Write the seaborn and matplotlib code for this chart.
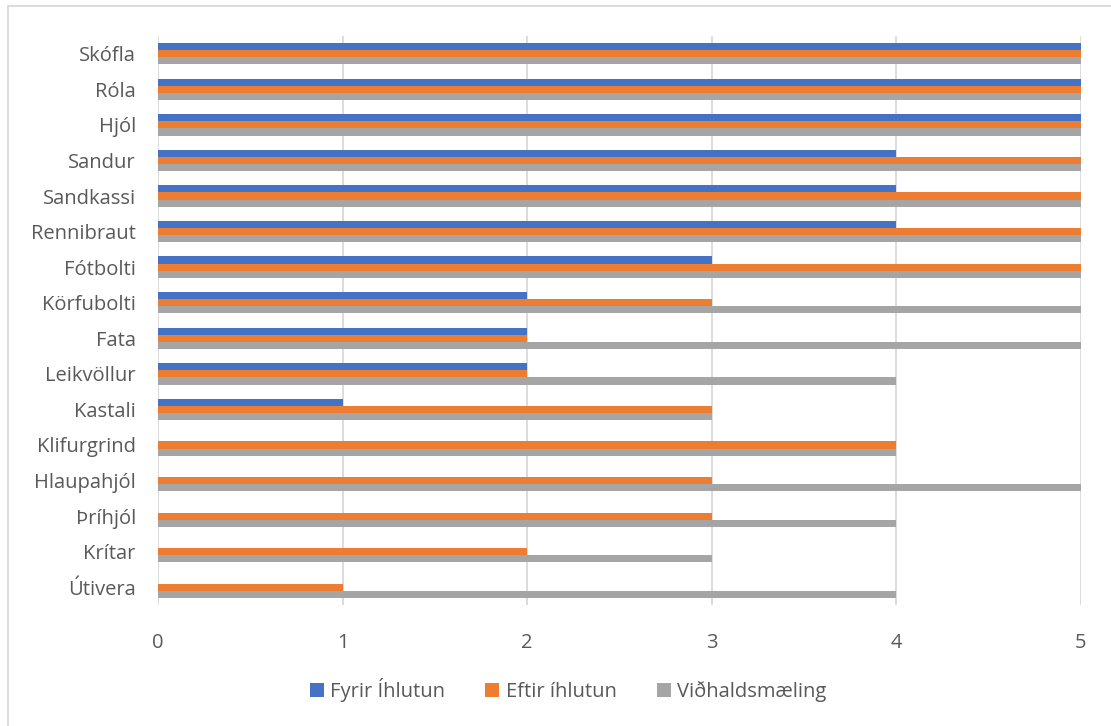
import pandas as pd
import matplotlib
matplotlib.use("Agg")
import matplotlib.pyplot as plt
import seaborn as sns
from matplotlib.patches import Rectangle

# data
categories = ["Skófla", "Róla", "Hjól", "Sandur", "Sandkassi", "Rennibraut",
              "Fótbolti", "Körfubolti", "Fata", "Leikvöllur", "Kastali",
              "Klifurgrind", "Hlaupahjól", "Þríhjól", "Krítar", "Útivera"]
series_names = ["Fyrir Íhlutun", "Eftir íhlutun", "Viðhaldsmæling"]
fyrir = [5, 5, 5, 4, 4, 4, 3, 2, 2, 2, 1, 0, 0, 0, 0, 0]
eftir = [5, 5, 5, 5, 5, 5, 5, 3, 2, 2, 3, 4, 3, 3, 2, 1]
vidhald = [5, 5, 5, 5, 5, 5, 5, 5, 5, 4, 3, 4, 5, 4, 3, 4]
xticks = [0, 1, 2, 3, 4, 5]

colors = ["#4472C4", "#ED7D31", "#A5A5A5"]
text_col = "#595959"

df = pd.DataFrame({"Flokkur": categories * 3,
                   "Röð": sum([[s] * len(categories) for s in series_names], []),
                   "Gildi": fyrir + eftir + vidhald})

sns.set_theme(style="white")
plt.rcParams['font.family'] = ['Open Sans', 'DejaVu Sans']

fig = plt.figure(figsize=(11.11, 7.26), dpi=100)
ax = fig.add_axes([158 / 1111, 1 - 605 / 726, (1081 - 158) / 1111, (605 - 36) / 726])

sns.barplot(data=df, x="Gildi", y="Flokkur", hue="Röð", orient="h",
            palette=colors, width=0.6, gap=0, saturation=1, linewidth=0,
            ax=ax, legend=True)

ax.set_xlim(0, 5)
ax.set_ylim(15.5, -0.5)
ax.set_xticks(xticks)
ax.set_xticklabels([str(t) for t in xticks])
ax.xaxis.grid(True, color="#D9D9D9", linewidth=1.3)
ax.set_axisbelow(True)
for s in ax.spines.values():
    s.set_visible(False)
ax.set_xlabel("")
ax.set_ylabel("")
ax.tick_params(axis="both", length=0, labelsize=14.5, colors=text_col)
ax.tick_params(axis="y", pad=16)
ax.tick_params(axis="x", pad=20)

handles, labels = ax.get_legend_handles_labels()
ax.legend_.remove()
fig.legend(handles, labels, loc="center", bbox_to_anchor=(568 / 1111, 1 - 690 / 726),
           ncol=3, frameon=False, fontsize=14.5, labelcolor=text_col,
           handlelength=0.7, handleheight=0.7, handletextpad=0.3, columnspacing=2.0)

# chart area border (only top and left edges are inside the picture)
fig.patches.append(Rectangle((8 / 1111, -0.1), 1.2, 1.1 - 6 / 726, transform=fig.transFigure,
                             fill=False, edgecolor="#D9D9D9", linewidth=1.3, zorder=-1))

fig.savefig("out.png", dpi=100)
